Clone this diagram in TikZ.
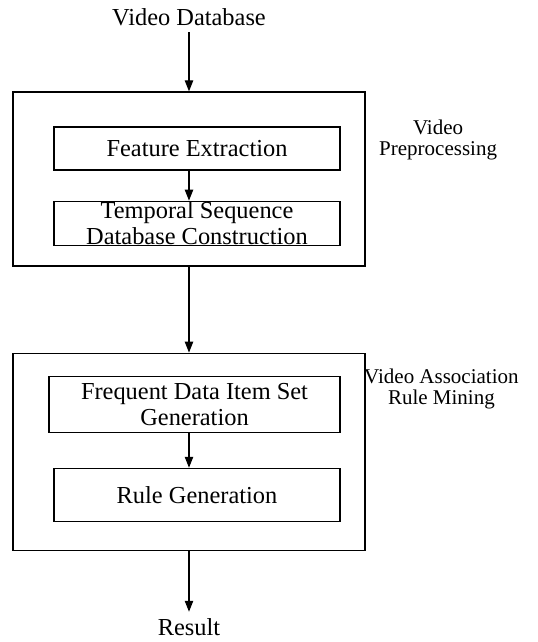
\documentclass[tikz,border=0pt]{standalone}
\usepackage{fontspec}
\setmainfont{Liberation Serif}
\usetikzlibrary{positioning}
\usetikzlibrary{arrows.meta}

\begin{document}
\begin{tikzpicture}[->,
            >={Triangle[length=5.5pt,width=4.2pt]},
            line width=0.6pt,
            box/.style = {draw,align=center,inner xsep=2pt,inner ysep=0pt,
                minimum width=143pt,font=\fontsize{12.2}{13}\selectfont},
            group/.style = {draw,minimum width=176pt,inner sep=0pt},
            unbox/.style = {align=center,inner sep=3pt,font=\fontsize{12.2}{13}\selectfont},
            note/.style = {align=center,inner sep=3pt,font=\fontsize{10.5}{10.5}\selectfont}]
            \useasboundingbox (0,0) rectangle (268.5pt,-321pt);
            % video preprocessing
            \node[group,minimum height=87pt](pre) at (94.5pt,-89.5pt) {};
            \node[box,minimum height=21.5pt,below right=17.5pt and 20.5pt of pre.north west](fe) {Feature Extraction};
            \node[box,minimum height=22pt,below=15pt of fe](ts) {Temporal Sequence\\Database Construction};
            \node[note,below right=11pt and 3.5pt of pre.north east](prelbl) {Video\\Preprocessing};
            % rule mining
            \node[group,minimum height=98.5pt,below=43pt of pre](mine) {};
            \node[box,minimum width=145.5pt,minimum height=28pt,below right=11.5pt and 18pt of mine.north west](fd) {Frequent Data Item Set\\Generation};
            \node[box,minimum height=26.5pt,below right=17.5pt and 2.5pt of fd.south west](rg) {Rule Generation};
            \node[note,below right=5pt and -4pt of mine.north east](minelbl) {Video Association\\Rule Mining};
            % in and out
            \node[unbox,above=29.5pt of pre](db) {Video Database};
            \node[unbox,below=30.5pt of mine](res) {Result};
            \path[]
                (db) edge (pre)
                (fe.south -| pre.south) edge (ts.north -| pre.south)
                (pre) edge (mine)
                (fd.south -| mine.south) edge (rg.north -| mine.south)
                (mine) edge (res);
        \end{tikzpicture}
\end{document}
